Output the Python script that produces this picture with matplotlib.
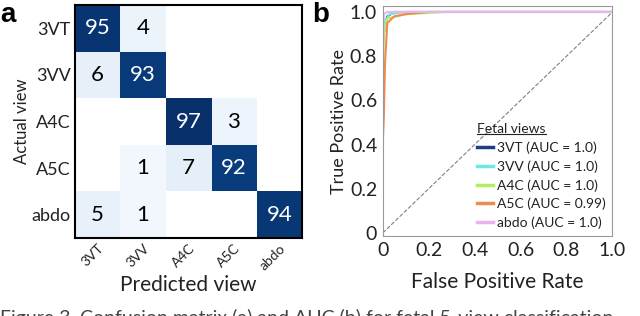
import matplotlib
matplotlib.use("Agg")
import matplotlib.pyplot as plt
import numpy as np

plt.rcParams['font.family'] = ['Lato', 'DejaVu Sans']

views = ['3VT', '3VV', 'A4C', 'A5C', 'abdo']
xtick_labels = ['3VT', '3VV', 'A4C', 'A5C', 'abdo']
cm = np.array([[95, 4, 0, 0, 0],
               [6, 93, 0, 0, 0],
               [0, 0, 97, 3, 0],
               [0, 1, 7, 92, 0],
               [5, 1, 0, 0, 94]])

# roc curves (fpr, tpr)
fpr_3vt = [0, 0, 0.005, 0.01, 0.02, 0.05, 1.0]
tpr_3vt = [0, 0.85, 0.9, 0.95, 0.98, 1.0, 1.0]
fpr_3vv = [0, 0, 0.01, 0.03, 0.1, 1.0]
tpr_3vv = [0, 0.9, 0.96, 0.99, 1.0, 1.0]
fpr_a4c = [0, 0, 0.005, 0.02, 0.1, 0.27, 1.0]
tpr_a4c = [0, 0.62, 0.9, 0.97, 0.99, 1.0, 1.0]
fpr_a5c = [0, 0, 0.005, 0.01, 0.02, 0.05, 0.1, 0.2, 1.0]
tpr_a5c = [0, 0.4, 0.53, 0.77, 0.95, 0.98, 0.99, 1.0, 1.0]
fpr_abdo = [0, 0, 0.005, 0.02, 1.0]
tpr_abdo = [0, 0.8, 0.99, 1.0, 1.0]
auc_labels = ['3VT (AUC = 1.0)', '3VV (AUC = 1.0)', 'A4C (AUC = 1.0)',
              'A5C (AUC = 0.99)', 'abdo (AUC = 1.0)']
roc_colors = ['#1f3c88', '#6ee8e0', '#b0f060', '#f08a50', '#e8b4ee']

fig = plt.figure(figsize=(6.4, 3.16), dpi=100)

# confusion matrix
ax1 = fig.add_axes([0.117, 0.247, 0.355, 0.737])
cmap = plt.get_cmap('Blues').copy()
cmap.set_bad('white')
ax1.imshow(np.ma.masked_equal(cm, 0), cmap=cmap, vmin=-2, vmax=97, aspect='auto')
for i in range(5):
    for j in range(5):
        v = cm[i, j]
        if v == 0:
            continue
        ax1.text(j, i, str(v), ha='center', va='center', fontsize=16,
                 color='white' if v > 50 else 'black')
ax1.set_xticks(range(5))
ax1.set_xticklabels(xtick_labels, rotation=45, fontsize=10, color='#222222',
                    ha='right', rotation_mode='anchor')
ax1.set_yticks(range(5))
ax1.set_yticklabels(views, fontsize=13, color='#222222')
ax1.tick_params(length=0, pad=3)
for s in ax1.spines.values():
    s.set_linewidth(1.5)
ax1.set_xlabel('Predicted view', fontsize=15, color='#222222', labelpad=2)
ax1.set_ylabel('Actual view', fontsize=12, color='#222222', labelpad=1)
fig.text(0.0, 0.995, 'a', fontsize=20, fontweight='bold',
         family='Liberation Sans', va='top')

# roc
ax2 = fig.add_axes([0.598, 0.253, 0.359, 0.728])
ax2.plot([0, 1], [0, 1], ls='--', color='gray', lw=0.8)
curves = [(fpr_3vt, tpr_3vt), (fpr_3vv, tpr_3vv), (fpr_a4c, tpr_a4c),
          (fpr_a5c, tpr_a5c), (fpr_abdo, tpr_abdo)]
for (f, t), lab, c in zip(curves, auc_labels, roc_colors):
    ax2.plot(f, t, color=c, lw=1.5, label=lab)
ax2.set_xlim(0, 1)
ax2.set_ylim(-0.014, 1.027)
ax2.set_xticks([0, 0.2, 0.4, 0.6, 0.8, 1.0])
ax2.set_xticklabels(['0', '0.2', '0.4', '0.6', '0.8', '1.0'])
ax2.set_yticks([0, 0.2, 0.4, 0.6, 0.8, 1.0])
ax2.set_yticklabels(['0', '0.2', '0.4', '0.6', '0.8', '1.0'])
ax2.tick_params(length=0, labelsize=14, labelcolor='#222222', pad=4)
for s in ax2.spines.values():
    s.set_color('#999999')
ax2.set_xlabel('False Positive Rate', fontsize=15, color='#222222', labelpad=10)
ax2.set_ylabel('True Positive Rate', fontsize=13, color='#222222', labelpad=2)
leg = ax2.legend(loc='lower right', frameon=False, fontsize=10,
                 title='Fetal views', title_fontsize=10,
                 handlelength=1.1, handletextpad=0.3, labelspacing=0.45,
                 borderaxespad=0.1, bbox_to_anchor=(1.0, 0.0))
leg._legend_box.align = 'left'
leg.get_title().set_color('#222222')
for t in leg.get_texts():
    t.set_color('#222222')
for h in leg.legend_handles:
    h.set_linewidth(2.5)

# underline the legend title
fig.canvas.draw()
tb = leg.get_title().get_window_extent().transformed(fig.transFigure.inverted())
fig.add_artist(plt.Line2D([tb.x0, tb.x1], [tb.y0 + 0.002, tb.y0 + 0.002],
                          transform=fig.transFigure, color='#222222', lw=0.8))

fig.text(0.488, 0.995, 'b', fontsize=20, fontweight='bold',
         family='Liberation Sans', va='top')

fig.text(0.0, -0.035, 'Figure 3. Confusion matrix (a) and AUC (b) for fetal 5-view classification',
         fontsize=14, color='#444444', va='bottom')

fig.savefig('out.png', dpi=100)
